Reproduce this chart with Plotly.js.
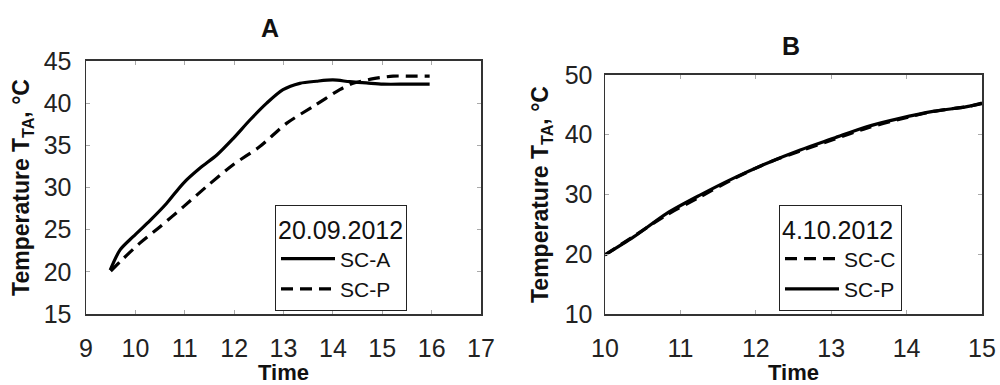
<!DOCTYPE html>
<html>
<head>
<meta charset="utf-8">
<script src="https://cdn.plot.ly/plotly-3.0.1.min.js"></script>
<style>html,body{margin:0;padding:0;background:#fff;}#chart{width:1000px;height:385px;}</style>
</head>
<body>
<div id="chart"></div>
<script>
// Panel A — 20.09.2012
const timeA_SCA = [9.49, 9.69, 9.96, 10.30, 10.63, 10.97, 11.31, 11.65, 11.98, 12.32, 12.66, 12.99, 13.33, 13.67, 14.00, 14.34, 14.68, 15.02, 15.50, 15.96];
const tempA_SCA = [20.2, 22.6, 24.2, 26.1, 28.1, 30.5, 32.3, 33.85, 35.8, 38.0, 40.0, 41.6, 42.35, 42.6, 42.75, 42.55, 42.4, 42.25, 42.25, 42.25];
const timeA_SCP = [9.50, 9.76, 10.09, 10.50, 10.97, 11.44, 11.98, 12.52, 13.06, 13.60, 14.14, 14.41, 14.82, 15.22, 15.60, 15.96];
const tempA_SCP = [20.1, 21.6, 23.4, 25.35, 27.7, 30.1, 32.7, 34.85, 37.6, 39.6, 41.6, 42.35, 42.9, 43.2, 43.2, 43.2];

// Panel B — 4.10.2012
const timeB = [10.0, 10.38, 10.82, 11.26, 11.70, 12.14, 12.59, 13.03, 13.47, 13.91, 14.35, 14.80, 15.0];
const tempB_SCC = [19.9, 23.0, 26.6, 29.6, 32.6, 35.2, 37.3, 39.2, 41.1, 42.6, 43.9, 44.7, 45.2];
const tempB_SCP = [19.9, 22.9, 26.85, 29.9, 32.7, 35.2, 37.45, 39.4, 41.35, 42.75, 43.9, 44.7, 45.3];

const xTicksA = [9, 10, 11, 12, 13, 14, 15, 16, 17];
const yTicksA = [15, 20, 25, 30, 35, 40, 45];
const xTicksB = [10, 11, 12, 13, 14, 15];
const yTicksB = [10, 20, 30, 40, 50];

const FONT = 'Liberation Sans, Arial, sans-serif';
const solid = {color: '#000', width: 3.2, dash: 'solid', shape: 'spline', smoothing: 0.8};
const dashed = {color: '#000', width: 3.2, dash: '12px,7px', shape: 'spline', smoothing: 0.8};

const traces = [
  {x: timeA_SCA, y: tempA_SCA, name: 'SC-A', mode: 'lines', line: solid, xaxis: 'x', yaxis: 'y', legend: 'legend'},
  {x: timeA_SCP, y: tempA_SCP, name: 'SC-P', mode: 'lines', line: dashed, xaxis: 'x', yaxis: 'y', legend: 'legend'},
  {x: timeB, y: tempB_SCC, name: 'SC-C', mode: 'lines', line: dashed, xaxis: 'x2', yaxis: 'y2', legend: 'legend2'},
  {x: timeB, y: tempB_SCP, name: 'SC-P', mode: 'lines', line: solid, xaxis: 'x2', yaxis: 'y2', legend: 'legend2'}
];

const axisCommon = {
  showline: true, linecolor: '#333', linewidth: 1.5, mirror: 'ticks',
  ticks: 'inside', ticklen: 4, tickcolor: '#aaa', tickwidth: 1,
  showgrid: false, zeroline: false,
  tickfont: {family: FONT, size: 25, color: '#222'}
};
const xTitleFont = {family: FONT, size: 22, color: '#111', weight: 'bold'};
const yTitleFont = {family: FONT, size: 23, color: '#111', weight: 'bold'};

const legendCommon = {
  bgcolor: '#fff', bordercolor: '#222', borderwidth: 1,
  font: {family: FONT, size: 21, color: '#111'},
  xanchor: 'left', yanchor: 'top', itemwidth: 54, tracegroupgap: 0
};

const layout = {
  width: 1000, height: 385,
  margin: {l: 0, r: 0, t: 0, b: 0},
  paper_bgcolor: '#fff', plot_bgcolor: '#fff',
  showlegend: true,
  xaxis: Object.assign({}, axisCommon, {
    domain: [0.086, 0.481], range: [9, 17], tickvals: xTicksA, ticklabelstandoff: 11,
    title: {text: 'Time', font: xTitleFont}, anchor: 'y'
  }),
  yaxis: Object.assign({}, axisCommon, {
    domain: [0.1844, 0.8416], range: [15, 45], tickvals: yTicksA, ticklabelstandoff: 8,
    title: {text: 'Temperature T<sub>TA</sub>, °C', font: yTitleFont}, anchor: 'x'
  }),
  xaxis2: Object.assign({}, axisCommon, {
    domain: [0.605, 0.982], range: [10, 15], tickvals: xTicksB, ticklabelstandoff: 11,
    title: {text: 'Time', font: xTitleFont}, anchor: 'y2'
  }),
  yaxis2: Object.assign({}, axisCommon, {
    domain: [0.1844, 0.8052], range: [10, 50], tickvals: yTicksB, ticklabelstandoff: 6,
    title: {text: 'Temperature T<sub>TA</sub>, °C', font: yTitleFont}, anchor: 'x2'
  }),
  legend: Object.assign({}, legendCommon, {x: 0.275, y: 1 - 205/385, title: {text: '20.09.2012', side: 'top'}}),
  legend2: Object.assign({}, legendCommon, {x: 0.779, y: 1 - 205/385, title: {text: '4.10.2012', side: 'top'}}),
  annotations: [
    {text: 'A', xref: 'paper', yref: 'paper', x: 0.270, y: 1 - 28/385, xanchor: 'center', yanchor: 'middle', showarrow: false,
     font: {family: FONT, size: 25, color: '#111', weight: 'bold'}},
    {text: 'B', xref: 'paper', yref: 'paper', x: 0.791, y: 1 - 46/385, xanchor: 'center', yanchor: 'middle', showarrow: false,
     font: {family: FONT, size: 25, color: '#111', weight: 'bold'}}
  ]
};

Plotly.newPlot('chart', traces, layout, {staticPlot: true, displayModeBar: false});
</script>
</body>
</html>
